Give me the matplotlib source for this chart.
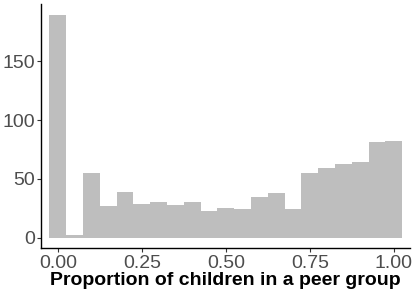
import numpy as np
import matplotlib
matplotlib.use("Agg")
import matplotlib.pyplot as plt

plt.rcParams['font.family'] = ['Liberation Sans', 'DejaVu Sans']

# histogram bins (centres) and counts
bin_centres = [0.00, 0.05, 0.10, 0.15, 0.20, 0.25, 0.30, 0.35, 0.40, 0.45, 0.50,
               0.55, 0.60, 0.65, 0.70, 0.75, 0.80, 0.85, 0.90, 0.95, 1.00]
counts = [189, 2, 55, 27, 39, 29, 30, 28, 30, 23, 25,
          24, 35, 38, 24, 55, 59, 63, 64, 81, 82]
x_ticks = [0.00, 0.25, 0.50, 0.75, 1.00]
y_ticks = [0, 50, 100, 150]

fig = plt.figure(figsize=(4.15, 2.97), dpi=100)
ax = fig.add_axes([41/415, 48.7/297, 369/415, 244.3/297])

ax.bar(bin_centres, counts, width=0.05, color='#BEBEBE', linewidth=0)

ax.set_xlim(-0.05, 1.048)
ax.set_ylim(-9.0, 198.7)
ax.set_xticks(x_ticks)
ax.set_xticklabels(['%.2f' % t for t in x_ticks])
ax.set_yticks(y_ticks)

for s in ['top', 'right']:
    ax.spines[s].set_visible(False)
for s in ['left', 'bottom']:
    ax.spines[s].set_linewidth(1.0)
    ax.spines[s].set_color('black')

ax.tick_params(axis='both', colors='#333333', labelcolor='#4D4D4D',
               labelsize=14, length=3, width=0.8, pad=1.5)

ax.set_xlabel('Proportion of children in a peer group', fontsize=14,
              fontweight='bold', color='black', labelpad=0)

fig.savefig('out.png', dpi=100)
